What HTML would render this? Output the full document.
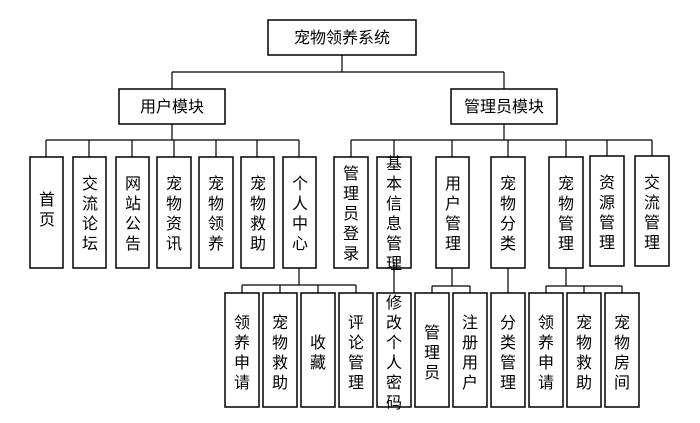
<!DOCTYPE html>
<html><head><meta charset="utf-8"><style>
html,body{margin:0;padding:0;background:#fff;}
svg{display:block;}
text{font-family:"Liberation Sans","Noto Sans CJK SC",sans-serif;font-size:16px;fill:#000;}
</style></head><body>
<svg width="700" height="423" viewBox="0 0 700 423" xmlns="http://www.w3.org/2000/svg">
<g stroke="#000" stroke-width="1.2" fill="none">
<!-- root connectors -->
<line x1="342" y1="55" x2="342" y2="72"/>
<line x1="172" y1="72" x2="504" y2="72"/>
<line x1="172" y1="72" x2="172" y2="89"/>
<line x1="504" y1="72" x2="504" y2="89"/>
<!-- user module children -->
<line x1="172" y1="124" x2="172" y2="140"/>
<line x1="46" y1="140" x2="299" y2="140"/>
<line x1="46" y1="140" x2="46" y2="157"/>
<line x1="89" y1="140" x2="89" y2="157"/>
<line x1="132" y1="140" x2="132" y2="157"/>
<line x1="174" y1="140" x2="174" y2="157"/>
<line x1="216" y1="140" x2="216" y2="157"/>
<line x1="257" y1="140" x2="257" y2="157"/>
<line x1="299" y1="140" x2="299" y2="157"/>
<!-- admin children -->
<line x1="504" y1="124" x2="504" y2="140"/>
<line x1="351" y1="140" x2="652" y2="140"/>
<line x1="351" y1="140" x2="351" y2="157"/>
<line x1="394" y1="140" x2="394" y2="157"/>
<line x1="452" y1="140" x2="452" y2="157"/>
<line x1="508" y1="140" x2="508" y2="157"/>
<line x1="566" y1="140" x2="566" y2="157"/>
<line x1="607" y1="140" x2="607" y2="156"/>
<line x1="652" y1="140" x2="652" y2="156"/>
<!-- 个人中心 children -->
<line x1="299" y1="268" x2="299" y2="285"/>
<line x1="242" y1="285" x2="356" y2="285"/>
<line x1="242" y1="285" x2="242" y2="293"/>
<line x1="280" y1="285" x2="280" y2="293"/>
<line x1="318" y1="285" x2="318" y2="293"/>
<line x1="356" y1="285" x2="356" y2="293"/>
<!-- 基本信息 -->
<line x1="394" y1="268" x2="394" y2="293"/>
<!-- 用户管理 -->
<line x1="452" y1="268" x2="452" y2="286"/>
<line x1="432" y1="286" x2="470" y2="286"/>
<line x1="432" y1="286" x2="432" y2="293"/>
<line x1="470" y1="286" x2="470" y2="293"/>
<!-- 宠物分类 -->
<line x1="508" y1="268" x2="508" y2="293"/>
<!-- 宠物管理 -->
<line x1="566" y1="268" x2="566" y2="286"/>
<line x1="546" y1="286" x2="622" y2="286"/>
<line x1="546" y1="286" x2="546" y2="293"/>
<line x1="584" y1="286" x2="584" y2="293"/>
<line x1="622" y1="286" x2="622" y2="293"/>
</g>
<g stroke="#000" stroke-width="1.5" fill="#fff">
<rect x="268" y="20" width="148" height="35"/>
<rect x="119" y="89" width="106" height="35"/>
<rect x="451" y="89" width="106" height="35"/>
<rect x="30" y="157" width="33" height="111"/>
<rect x="73" y="157" width="33" height="111"/>
<rect x="116" y="157" width="33" height="111"/>
<rect x="157" y="157" width="34" height="111"/>
<rect x="199" y="157" width="34" height="111"/>
<rect x="241" y="157" width="33" height="111"/>
<rect x="283" y="157" width="33" height="111"/>
<rect x="334" y="157" width="34" height="111"/>
<rect x="377" y="157" width="34" height="111"/>
<rect x="436" y="157" width="33" height="111"/>
<rect x="491" y="157" width="34" height="111"/>
<rect x="549" y="157" width="34" height="111"/>
<rect x="590" y="156" width="34" height="110"/>
<rect x="635" y="156" width="34" height="110"/>
<rect x="225" y="293" width="34" height="114"/>
<rect x="263" y="293" width="34" height="114"/>
<rect x="301" y="293" width="34" height="114"/>
<rect x="339" y="293" width="34" height="114"/>
<rect x="377" y="293" width="34" height="114"/>
<rect x="415" y="293" width="34" height="114"/>
<rect x="453" y="293" width="34" height="114"/>
<rect x="491" y="293" width="34" height="114"/>
<rect x="529" y="293" width="34" height="114"/>
<rect x="567" y="293" width="34" height="114"/>
<rect x="605" y="293" width="34" height="114"/>
</g>
<line x1="394" y1="262" x2="394" y2="272" stroke="#000" stroke-width="1.2"/>
<g text-anchor="middle">
<text x="342" y="43">宠物领养系统</text>
<text x="172" y="112">用户模块</text>
<text x="504" y="112">管理员模块</text>
<text x="47" y="205">首</text><text x="47" y="225">页</text>
<text x="90" y="189">交</text><text x="90" y="209">流</text><text x="90" y="229">论</text><text x="90" y="249">坛</text>
<text x="133" y="189">网</text><text x="133" y="209">站</text><text x="133" y="229">公</text><text x="133" y="249">告</text>
<text x="174" y="189">宠</text><text x="174" y="209">物</text><text x="174" y="229">资</text><text x="174" y="249">讯</text>
<text x="216" y="189">宠</text><text x="216" y="209">物</text><text x="216" y="229">领</text><text x="216" y="249">养</text>
<text x="258" y="189">宠</text><text x="258" y="209">物</text><text x="258" y="229">救</text><text x="258" y="249">助</text>
<text x="300" y="189">个</text><text x="300" y="209">人</text><text x="300" y="229">中</text><text x="300" y="249">心</text>
<text x="351" y="179">管</text><text x="351" y="199">理</text><text x="351" y="219">员</text><text x="351" y="239">登</text><text x="351" y="259">录</text>
<text x="394" y="169">基</text><text x="394" y="189">本</text><text x="394" y="209">信</text><text x="394" y="229">息</text><text x="394" y="249">管</text><text x="394" y="269">理</text>
<text x="453" y="189">用</text><text x="453" y="209">户</text><text x="453" y="229">管</text><text x="453" y="249">理</text>
<text x="508" y="189">宠</text><text x="508" y="209">物</text><text x="508" y="229">分</text><text x="508" y="249">类</text>
<text x="566" y="189">宠</text><text x="566" y="209">物</text><text x="566" y="229">管</text><text x="566" y="249">理</text>
<text x="607" y="188">资</text><text x="607" y="208">源</text><text x="607" y="228">管</text><text x="607" y="248">理</text>
<text x="652" y="188">交</text><text x="652" y="208">流</text><text x="652" y="228">管</text><text x="652" y="248">理</text>
<text x="242" y="328">领</text><text x="242" y="348">养</text><text x="242" y="368">申</text><text x="242" y="388">请</text>
<text x="280" y="328">宠</text><text x="280" y="348">物</text><text x="280" y="368">救</text><text x="280" y="388">助</text>
<text x="318" y="348">收</text><text x="318" y="368">藏</text>
<text x="356" y="328">评</text><text x="356" y="348">论</text><text x="356" y="368">管</text><text x="356" y="388">理</text>
<text x="394" y="308">修</text><text x="394" y="328">改</text><text x="394" y="348">个</text><text x="394" y="368">人</text><text x="394" y="388">密</text><text x="394" y="408">码</text>
<text x="432" y="338">管</text><text x="432" y="358">理</text><text x="432" y="378">员</text>
<text x="470" y="328">注</text><text x="470" y="348">册</text><text x="470" y="368">用</text><text x="470" y="388">户</text>
<text x="508" y="328">分</text><text x="508" y="348">类</text><text x="508" y="368">管</text><text x="508" y="388">理</text>
<text x="546" y="328">领</text><text x="546" y="348">养</text><text x="546" y="368">申</text><text x="546" y="388">请</text>
<text x="584" y="328">宠</text><text x="584" y="348">物</text><text x="584" y="368">救</text><text x="584" y="388">助</text>
<text x="622" y="328">宠</text><text x="622" y="348">物</text><text x="622" y="368">房</text><text x="622" y="388">间</text>
</g>
</svg>
</body></html>
